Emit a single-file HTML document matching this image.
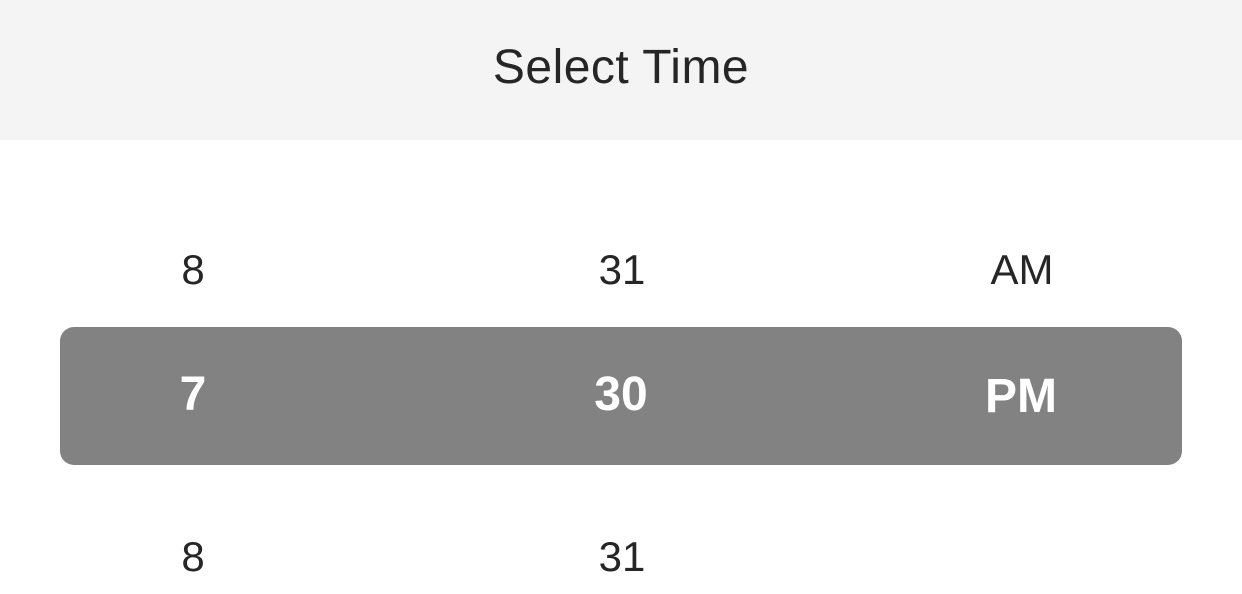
<!DOCTYPE html>
<html><head><meta charset="utf-8"><style>
html,body{margin:0;padding:0;width:1242px;height:594px;overflow:hidden;background:#fff;font-family:"Liberation Sans",sans-serif;}
.header{position:absolute;left:0;top:0;width:1242px;height:140px;background:#f4f4f4;}
.title{position:absolute;left:0;width:1242px;top:40px;text-align:center;font-size:48px;letter-spacing:0.5px;color:#262626;line-height:56px;}
.cell{position:absolute;transform:translate(-50%,-50%);font-size:42px;color:#262626;line-height:1;white-space:nowrap;}
.sel{position:absolute;left:60px;top:327px;width:1122px;height:138px;background:#828282;border-radius:14px;}
.bold{color:#fff;font-weight:bold;font-size:48px;}
</style></head><body>
<div class="header">
  <div class="title">Select Time</div>
</div>
<div class="cell" style="left:193px;top:270px">8</div>
<div class="cell" style="left:622px;top:270px">31</div>
<div class="cell" style="left:1022px;top:270px">AM</div>
<div class="sel"></div>
<div class="cell bold" style="left:193px;top:395px">7</div>
<div class="cell bold" style="left:621px;top:395px">30</div>
<div class="cell bold" style="left:1021px;top:397px">PM</div>
<div class="cell" style="left:193px;top:557px">8</div>
<div class="cell" style="left:622px;top:557px">31</div>
</body></html>
